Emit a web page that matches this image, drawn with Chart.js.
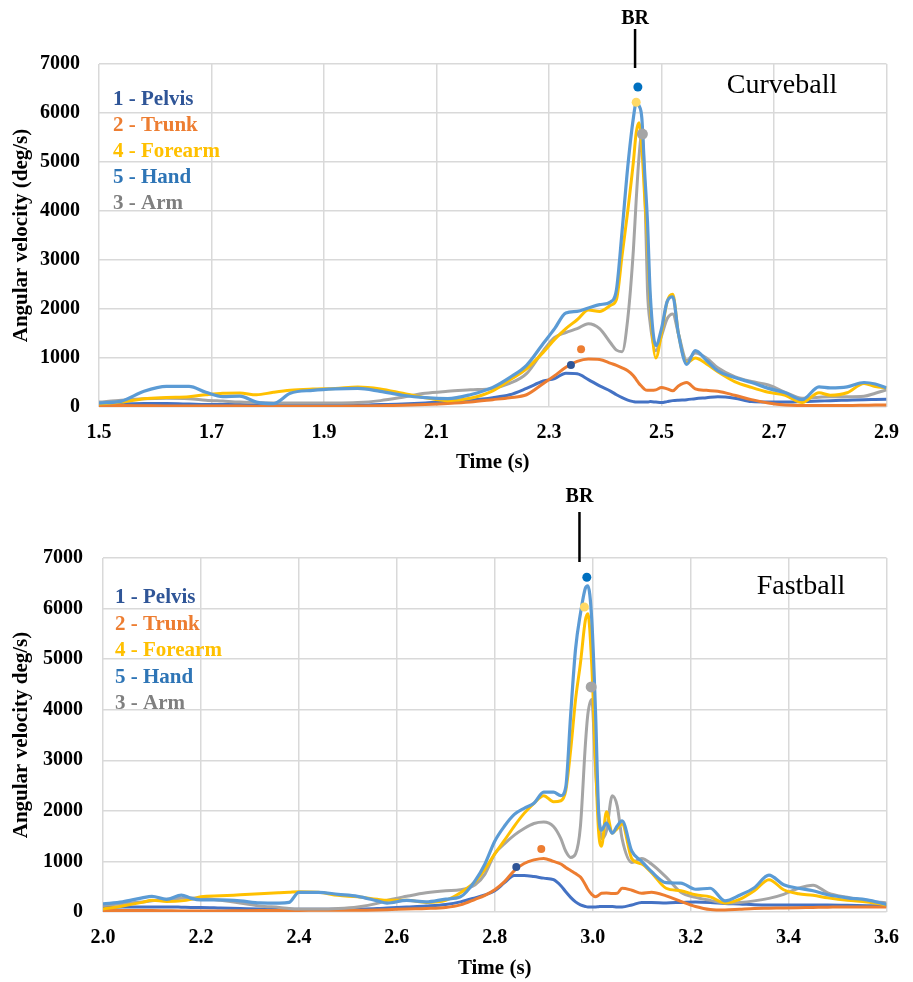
<!DOCTYPE html>
<html>
<head>
<meta charset="utf-8">
<script src="https://cdn.jsdelivr.net/npm/chart.js@4.4.1/dist/chart.umd.min.js"></script>
<style>
  body { margin: 0; background: #fff; }
  .box { position: relative; width: 913px; }
</style>
</head>
<body>
<div class="box" style="height:478px"><canvas id="curve"></canvas></div>
<div class="box" style="height:504px"><canvas id="fast"></canvas></div>
<script>
// segment order used for legend text + series arrays
var segNames = ['1 - Pelvis', '2 - Trunk', '4 - Forearm', '5 - Hand', '3 - Arm'];
var lineColors = ['#4472C4', '#ED7D31', '#FFC000', '#5B9BD5', '#A5A5A5'];
var textColors = ['#2F5597', '#ED7D31', '#FFC000', '#2E75B6', '#7F7F7F'];
var dotColors = ['#2F5597', '#ED7D31', '#FFD966', '#0070C0', '#A5A5A5'];

var velTicks = [0, 1000, 2000, 3000, 4000, 5000, 6000, 7000];

// ---- Curveball ----
var curveTicks = [1.5, 1.7, 1.9, 2.1, 2.3, 2.5, 2.7, 2.9];
var curveTime = [1.50, 1.54, 1.58, 1.62, 1.66, 1.69, 1.72, 1.75, 1.78, 1.81, 1.84, 1.88, 1.92, 1.96, 2.00,
  2.04, 2.08, 2.12, 2.16, 2.20, 2.23, 2.26, 2.29, 2.31, 2.33, 2.35, 2.37, 2.39, 2.41, 2.42,
  2.43, 2.44, 2.45, 2.455, 2.46, 2.465, 2.47, 2.475, 2.48, 2.49, 2.50, 2.51, 2.52, 2.53, 2.545,
  2.56, 2.58, 2.60, 2.63, 2.66, 2.69, 2.72, 2.75, 2.78, 2.80, 2.83, 2.86, 2.88, 2.90];
var curvePelvis = [50, 60, 70, 70, 60, 50, 50, 50, 40, 40, 40, 40, 40, 40, 50,
  60, 80, 110, 140, 190, 250, 380, 530, 580, 690, 680, 560, 430, 320, 250,
  190, 140, 110, 100, 100, 100, 100, 100, 110, 100, 90, 110, 130, 140, 150,
  170, 190, 210, 180, 110, 100, 100, 110, 120, 130, 140, 150, 155, 160];
var curveTrunk = [30, 30, 25, 20, 20, 20, 20, 20, 15, 15, 15, 15, 15, 20, 25,
  35, 50, 70, 100, 150, 190, 250, 480, 640, 810, 930, 980, 970, 890, 850,
  800, 740, 640, 560, 480, 420, 360, 340, 340, 350, 400, 370, 330, 430, 500,
  370, 340, 320, 240, 150, 80, 40, 30, 30, 30, 30, 35, 40, 40];
var curveForearm = [60, 100, 170, 195, 210, 250, 280, 285, 250, 300, 340, 365, 380, 410, 370,
  280, 190, 130, 180, 330, 550, 780, 1120, 1380, 1600, 1780, 1980, 1950, 2080, 2200,
  3100, 4000, 5000, 5600, 5800, 5300, 4300, 3400, 2100, 1000, 1500, 2150, 2300, 1500, 900,
  1000, 880, 720, 520, 400, 300, 240, 90, 290, 240, 290, 480, 420, 390];
var curveHand = [80, 120, 320, 420, 420, 300, 210, 220, 100, 70, 280, 340, 370, 380, 320,
  240, 190, 170, 250, 400, 600, 850, 1300, 1600, 1920, 1950, 2020, 2090, 2150, 2400,
  3600, 4900, 5900, 6200, 6150, 5900, 4800, 3800, 2300, 1250, 1600, 2150, 2250, 1500, 870,
  1150, 950, 740, 600, 500, 380, 290, 150, 410, 390, 410, 500, 470, 390];
var curveArm = [100, 140, 170, 180, 170, 140, 120, 100, 90, 80, 80, 80, 80, 90, 130,
  200, 280, 320, 350, 380, 480, 680, 1150, 1420, 1520, 1600, 1700, 1600, 1300, 1160,
  1130, 1800, 3200, 4220, 5100, 5580, 4600, 2400, 1700, 1150, 1450, 1800, 1900, 1500, 950,
  1100, 1000, 800, 620, 520, 450, 300, 180, 200, 210, 210, 220, 280, 350];
var curvePeakTime = [2.339, 2.357, 2.455, 2.458, 2.466];
var curvePeakVal = [857, 1180, 6220, 6530, 5570];
var curveBR = 2.453;

// ---- Fastball ----
var fastTicks = [2.0, 2.2, 2.4, 2.6, 2.8, 3.0, 3.2, 3.4, 3.6];
var fastTime = [2.00, 2.04, 2.08, 2.10, 2.13, 2.16, 2.18, 2.20, 2.24, 2.28, 2.32, 2.36, 2.38, 2.40, 2.44,
  2.48, 2.52, 2.56, 2.58, 2.62, 2.66, 2.70, 2.73, 2.76, 2.78, 2.80, 2.82, 2.84, 2.86, 2.88,
  2.90, 2.92, 2.935, 2.945, 2.955, 2.965, 2.975, 2.985, 2.99, 2.998, 3.006, 3.012, 3.018, 3.028, 3.04,
  3.05, 3.06, 3.08, 3.10, 3.12, 3.15, 3.18, 3.21, 3.24, 3.27, 3.30, 3.33, 3.36, 3.39, 3.42,
  3.45, 3.48, 3.52, 3.56, 3.60];
var fastPelvis = [90, 100, 100, 100, 100, 95, 90, 90, 80, 70, 60, 55, 55, 55, 55,
  55, 60, 70, 80, 100, 120, 150, 200, 280, 340, 420, 580, 720, 720, 700,
  670, 640, 520, 400, 290, 200, 140, 110, 100, 100, 100, 105, 110, 110, 110,
  100, 100, 140, 190, 190, 180, 190, 200, 190, 170, 160, 145, 140, 140, 140,
  140, 140, 135, 125, 120];
var fastTrunk = [30, 30, 30, 30, 25, 20, 20, 20, 20, 25, 30, 30, 30, 30, 35,
  35, 35, 40, 45, 60, 70, 90, 140, 250, 330, 440, 600, 820, 960, 1030,
  1060, 1000, 950, 880, 820, 760, 690, 540, 450, 350, 300, 330, 370, 375, 365,
  370, 470, 430, 370, 390, 320, 210, 110, 50, 40, 55, 70, 75, 80, 85,
  90, 95, 100, 100, 100];
var fastForearm = [60, 120, 190, 230, 210, 220, 250, 300, 320, 340, 360, 380, 390, 400, 390,
  330, 300, 250, 230, 230, 190, 230, 380, 600, 850, 1150, 1420, 1700, 1950, 2150,
  2300, 2180, 2200, 2400, 3200, 4200, 4920, 5770, 5900, 4900, 2900, 1600, 1300, 1980, 1560,
  1650, 1740, 1050, 950, 780, 470, 420, 340, 300, 180, 250, 420, 640, 440, 360,
  330, 280, 230, 200, 140];
var fastHand = [160, 200, 280, 310, 250, 335, 270, 240, 240, 220, 180, 175, 190, 390, 390,
  350, 310, 220, 175, 230, 200, 255, 300, 620, 950, 1400, 1700, 1930, 2050, 2150,
  2370, 2370, 2300, 2470, 3900, 5200, 5900, 6400, 6450, 5800, 3900, 2000, 1620, 1760, 1560,
  1700, 1800, 1200, 1000, 800, 580, 570, 450, 470, 220, 330, 480, 730, 540, 470,
  420, 340, 280, 240, 150];
var fastArm = [130, 170, 200, 220, 250, 270, 275, 270, 230, 180, 120, 90, 70, 60, 60,
  70, 100, 170, 230, 310, 380, 420, 440, 540, 750, 1150, 1350, 1520, 1650, 1750,
  1780, 1690, 1450, 1200, 1080, 1150, 1700, 3300, 3900, 4200, 2800, 2000, 1450, 1600, 2300,
  2100, 1450, 980, 1060, 950, 690, 390, 290, 230, 180, 190, 220, 270, 350, 470,
  530, 380, 290, 220, 180];
var fastPeakTime = [2.844, 2.895, 2.983, 2.988, 2.997];
var fastPeakVal = [890, 1245, 6030, 6620, 4450];
var fastBR = 2.973;

var serif = '"Liberation Serif", "Times New Roman", serif';

function pts(times, vals) {
  return times.map(function (t, i) { return { x: t, y: vals[i] }; });
}

// legend text, pitch name and BR mark drawn on top of the plot
var notesPlugin = {
  id: 'notes',
  afterDatasetsDraw: function (chart, args, opts) {
    var ctx = chart.ctx, area = chart.chartArea;
    var bx = chart.scales.x.getPixelForValue(opts.brTime);
    ctx.save();
    ctx.textBaseline = 'middle';
    ctx.textAlign = 'left';
    ctx.font = 'bold 21px ' + serif;
    for (var i = 0; i < segNames.length; i++) {
      ctx.fillStyle = textColors[i];
      ctx.fillText(segNames[i], area.left + opts.legendX, area.top + opts.legendY + i * opts.legendGap);
    }
    ctx.fillStyle = '#000';
    ctx.textAlign = 'center';
    ctx.font = '28px ' + serif;
    ctx.fillText(opts.title, opts.titleX, opts.titleY);
    ctx.font = 'bold 20px ' + serif;
    ctx.fillText('BR', bx, opts.brTextY);
    ctx.strokeStyle = '#000';
    ctx.lineWidth = 2.5;
    ctx.beginPath();
    ctx.moveTo(bx, opts.brTop);
    ctx.lineTo(bx, opts.brBottom);
    ctx.stroke();
    ctx.restore();
  }
};

function makeChart(id, o) {
  var series = o.series;
  var drawOrder = [5, 4, 2, 1, 3];
  var widths = [3, 3, 3, 3.2, 3];
  var dotR = [4, 4, 4.5, 4.5, 5.5];
  var datasets = [];
  for (var i = 0; i < series.length; i++) {
    datasets.push({
      label: segNames[i],
      data: pts(o.time, series[i]),
      borderColor: lineColors[i],
      borderWidth: widths[i],
      pointRadius: 0,
      fill: false,
      cubicInterpolationMode: 'monotone',
      order: drawOrder[i]
    });
  }
  // peak markers
  for (var j = 0; j < o.peakT.length; j++) {
    datasets.push({
      label: 'peak ' + segNames[j],
      data: [{ x: o.peakT[j], y: o.peakV[j] }],
      showLine: false,
      pointRadius: dotR[j],
      pointBackgroundColor: dotColors[j],
      pointBorderWidth: 0,
      order: 0
    });
  }

  return new Chart(document.getElementById(id), {
    type: 'line',
    data: { datasets: datasets },
    plugins: [notesPlugin],
    options: {
      responsive: true,
      maintainAspectRatio: false,
      animation: false,
      layout: { padding: { top: o.padTop, right: o.padRight, bottom: 0, left: 0 } },
      plugins: {
        legend: { display: false },
        tooltip: { enabled: false },
        notes: o.notes
      },
      scales: {
        x: {
          type: 'linear',
          min: o.xTicks[0],
          max: o.xTicks[o.xTicks.length - 1],
          afterBuildTicks: function (scale) {
            scale.ticks = o.xTicks.map(function (v) { return { value: v }; });
          },
          afterFit: function (scale) { scale.height = o.xHeight; },
          grid: { color: '#D9D9D9', lineWidth: 1.5, drawTicks: false },
          border: { display: false },
          ticks: {
            padding: 14,
            color: '#000',
            font: { family: serif, size: 20, weight: 'bold' },
            callback: function (v) { return Number(v).toFixed(1); }
          },
          title: {
            display: true,
            text: 'Time (s)',
            color: '#000',
            font: { family: serif, size: 21, weight: 'bold' },
            padding: { top: 0, bottom: o.xTitlePad }
          }
        },
        y: {
          min: 0,
          max: 7000,
          afterBuildTicks: function (scale) {
            scale.ticks = velTicks.map(function (v) { return { value: v }; });
          },
          afterFit: function (scale) { scale.width = o.yWidth; },
          grid: { color: '#D9D9D9', lineWidth: 1.5, drawTicks: false },
          border: { display: false },
          ticks: {
            padding: o.yTickPad,
            color: '#000',
            font: { family: serif, size: 20, weight: 'bold' },
            callback: function (v) { return String(v); }
          },
          title: {
            display: true,
            text: o.yTitle,
            color: '#000',
            font: { family: serif, size: 21, weight: 'bold' },
            padding: { top: 9, bottom: 0 }
          }
        }
      }
    }
  });
}

makeChart('curve', {
  time: curveTime,
  series: [curvePelvis, curveTrunk, curveForearm, curveHand, curveArm],
  peakT: curvePeakTime,
  peakV: curvePeakVal,
  xTicks: curveTicks,
  yTitle: 'Angular velocity (deg/s)',
  padTop: 64, padRight: 18, xHeight: 71, yWidth: 99, yTickPad: 19, xTitlePad: 3,
  notes: {
    legendX: 14, legendY: 36, legendGap: 25.8,
    title: 'Curveball', titleX: 782, titleY: 86,
    brTime: curveBR, brTextY: 19, brTop: 29, brBottom: 68
  }
});

makeChart('fast', {
  time: fastTime,
  series: [fastPelvis, fastTrunk, fastForearm, fastHand, fastArm],
  peakT: fastPeakTime,
  peakV: fastPeakVal,
  xTicks: fastTicks,
  yTitle: 'Angular velocity deg/s)',
  padTop: 80, padRight: 16, xHeight: 70, yWidth: 103, yTickPad: 20, xTitlePad: 1,
  notes: {
    legendX: 12, legendY: 40, legendGap: 26.5,
    title: 'Fastball', titleX: 801, titleY: 109,
    brTime: fastBR, brTextY: 19, brTop: 34, brBottom: 84
  }
});
</script>
</body>
</html>
